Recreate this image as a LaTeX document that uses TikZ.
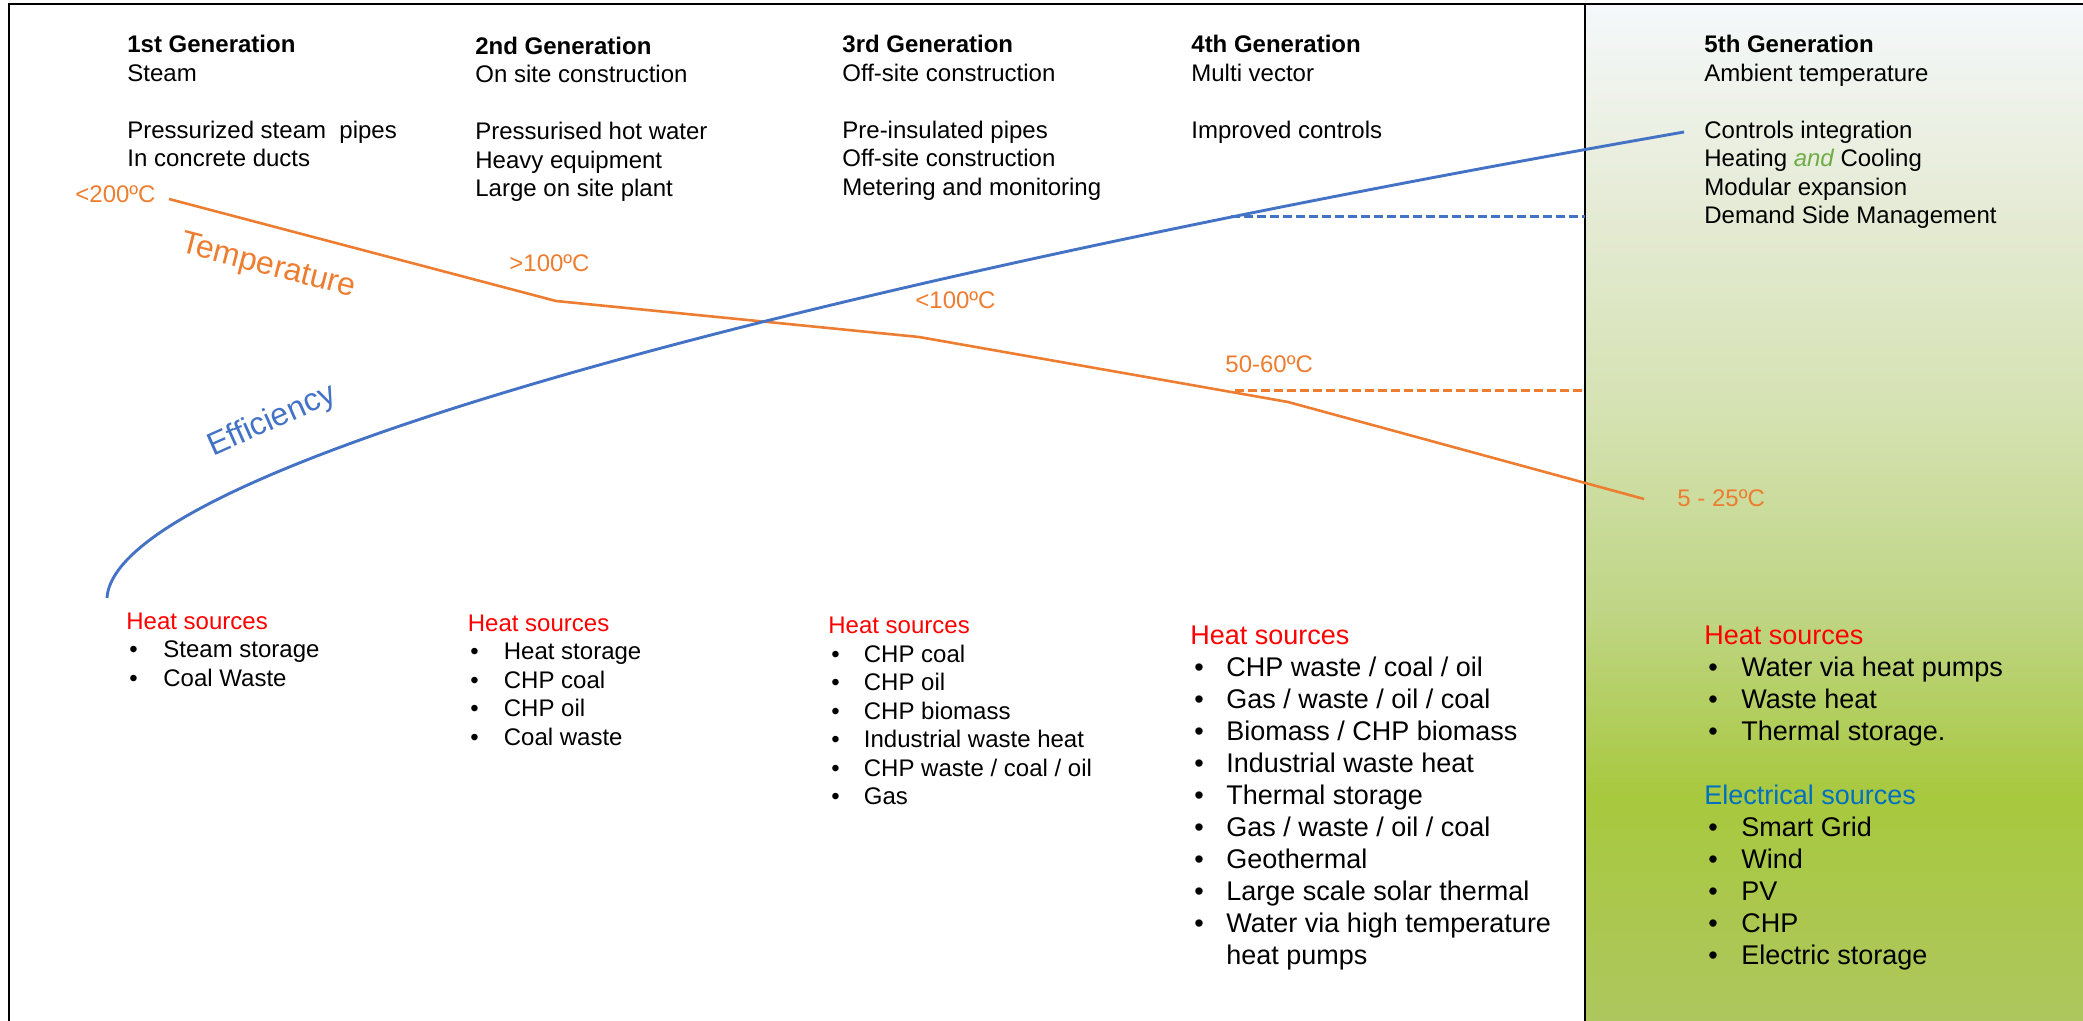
\documentclass[tikz,border=0pt]{standalone}
\usepackage{fontspec}
\setmainfont{Liberation Sans}
\definecolor{tempc}{HTML}{ED7D31}
\definecolor{effc}{HTML}{4472C4}
\definecolor{heatc}{HTML}{FF0000}
\definecolor{elecc}{HTML}{0070C0}
\definecolor{andc}{HTML}{70AD47}
\definecolor{g0}{HTML}{F5F8FB}
\definecolor{gA}{HTML}{E5EBD5}
\definecolor{gB}{HTML}{D5E2B2}
\definecolor{gC}{HTML}{BFD584}
\definecolor{gD}{HTML}{A8C83E}
\definecolor{gE}{HTML}{AEC75E}
\pgfdeclareverticalshading{greenpanel}{100bp}{color(0bp)=(gE); color(25bp)=(gE); color(36bp)=(gD); color(45bp)=(gC); color(55bp)=(gB); color(65bp)=(gA); color(75bp)=(g0); color(100bp)=(g0)}
\tikzset{
  txt/.style={anchor=base west, inner sep=0pt, font=\fontsize{12}{14}\selectfont},
  bigtxt/.style={anchor=base west, inner sep=0pt, font=\fontsize{13.5}{16}\selectfont},
  templbl/.style={anchor=base west, inner sep=0pt, text=tempc, font=\fontsize{12}{14}\selectfont},
  curvelbl/.style={inner sep=0pt, font=\fontsize{16}{19}\selectfont},
  frame/.style={line width=1.25pt, black},
  templine/.style={line width=1.3pt, tempc},
  effline/.style={line width=1.45pt, effc},
  dashline/.style={line width=1.5pt, dash pattern=on 4.5pt off 2pt}
}
\begin{document}
\begin{tikzpicture}[x=0.5pt, y=-0.5pt]
\useasboundingbox (0,0) rectangle (2083,1021);
% green panel
\shade[shading=greenpanel] (1585,4) rectangle (2083,1021);
% frame
\draw[frame] (9,1021) -- (9,4) -- (2083,4);
\draw[frame] (1585,4) -- (1585,1021);

% headers
\node[txt] (h1a) at (127,53) {\textbf{1st Generation}};
\node[txt] (h1b) at (127,81.5) {Steam};
\node[txt] (h1c) at (127,138.5) {Pressurized steam\ \ pipes};
\node[txt] (h1d) at (127,167) {In concrete ducts};

\node[txt] (h2a) at (475,54.5) {\textbf{2nd Generation}};
\node[txt] (h2b) at (475,83) {On site construction};
\node[txt] (h2c) at (475,140) {Pressurised hot water};
\node[txt] (h2d) at (475,168.5) {Heavy equipment};
\node[txt] (h2e) at (475,197) {Large on site plant};

\node[txt] (h3a) at (842,53) {\textbf{3rd Generation}};
\node[txt] (h3b) at (842,81.5) {Off-site construction};
\node[txt] (h3c) at (842,138.5) {Pre-insulated pipes};
\node[txt] (h3d) at (842,167) {Off-site construction};
\node[txt] (h3e) at (842,195.5) {Metering and monitoring};

\node[txt] (h4a) at (1191,53) {\textbf{4th Generation}};
\node[txt] (h4b) at (1191,81.5) {Multi vector};
\node[txt] (h4c) at (1191,138.5) {Improved controls};

\node[txt] (h5a) at (1704,53) {\textbf{5th Generation}};
\node[txt] (h5b) at (1704,81.5) {Ambient temperature};
\node[txt] (h5c) at (1704,138.5) {Controls integration};
\node[txt] (h5d) at (1704,167) {Heating \textcolor{andc}{\itshape and} Cooling};
\node[txt] (h5e) at (1704,195.5) {Modular expansion};
\node[txt] (h5f) at (1704,224) {Demand Side Management};

% temperature line
\coordinate (t0) at (169,199);
\coordinate (t1) at (556,301);
\coordinate (t2) at (919,337);
\coordinate (t3) at (1288,402);
\coordinate (t4) at (1644,499);
\draw[templine] (t0) -- (t1) -- (t2) -- (t3) -- (t4);
\coordinate (td0) at (1235,391);
\coordinate (td1) at (1585,391);
\draw[templine, dashline] (td0) -- (td1);

% efficiency curve
\coordinate (e0) at (107,598);
\coordinate (e3) at (1684,132);
\draw[effline] (e0) .. controls (115,470) and (780,290) .. (e3);
\coordinate (ed0) at (1231,217);
\coordinate (ed1) at (1585,217);
\draw[effline, dashline] (ed0) -- (ed1);

% temperature labels
\node[templbl] (l200) at (75,202.5) {<200ºC};
\node[templbl] (l100a) at (509,272) {>100ºC};
\node[templbl] (l100b) at (915,309) {<100ºC};
\node[templbl] (l50) at (1225,373) {50-60ºC};
\node[templbl] (l5) at (1677,507) {5 - 25ºC};

\node[curvelbl, text=tempc, rotate=-14.5] (ltemp) at (268,267) {Temperature};
\node[curvelbl, text=effc, rotate=24] (leff) at (272,421) {Efficiency};

% heat sources col1
\node[txt, text=heatc] (s1) at (126,629) {Heat sources};
\foreach \t [count=\i] in {Steam storage, Coal Waste} {
  \node[txt] (s1b\i) at (129,{629+\i*28.5}) {•};
  \node[txt] (s1t\i) at (163,{629+\i*28.5}) {\t};
}
% col2
\node[txt, text=heatc] (s2) at (467.5,631) {Heat sources};
\foreach \t [count=\i] in {Heat storage, CHP coal, CHP oil, Coal waste} {
  \node[txt] (s2b\i) at (470,{631+\i*28.5}) {•};
  \node[txt] (s2t\i) at (503.5,{631+\i*28.5}) {\t};
}
% col3
\node[txt, text=heatc] (s3) at (828,633.5) {Heat sources};
\foreach \t [count=\i] in {CHP coal, CHP oil, CHP biomass, Industrial waste heat, CHP waste / coal / oil, Gas} {
  \node[txt] (s3b\i) at (831,{633.5+\i*28.5}) {•};
  \node[txt] (s3t\i) at (863.5,{633.5+\i*28.5}) {\t};
}
% col4
\node[bigtxt, text=heatc] (s4) at (1190,644.5) {Heat sources};
\foreach \t [count=\i] in {CHP waste / coal / oil, Gas / waste / oil / coal, Biomass / CHP biomass, Industrial waste heat, Thermal storage, Gas / waste / oil / coal, Geothermal, Large scale solar thermal, Water via high temperature} {
  \node[bigtxt] (s4b\i) at (1194,{644.5+\i*32}) {•};
  \node[bigtxt] (s4t\i) at (1226,{644.5+\i*32}) {\t};
}
\node[bigtxt] (s4t10) at (1226,964.5) {heat pumps};
% col5
\node[bigtxt, text=heatc] (s5) at (1704,644.5) {Heat sources};
\foreach \t [count=\i] in {Water via heat pumps, Waste heat, Thermal storage.} {
  \node[bigtxt] (s5b\i) at (1708,{644.5+\i*32}) {•};
  \node[bigtxt] (s5t\i) at (1741,{644.5+\i*32}) {\t};
}
\node[bigtxt, text=elecc] (e5) at (1704,804.5) {Electrical sources};
\foreach \t [count=\i] in {Smart Grid, Wind, PV, CHP, Electric storage} {
  \node[bigtxt] (e5b\i) at (1708,{804.5+\i*32}) {•};
  \node[bigtxt] (e5t\i) at (1741,{804.5+\i*32}) {\t};
}
\end{tikzpicture}
\end{document}
